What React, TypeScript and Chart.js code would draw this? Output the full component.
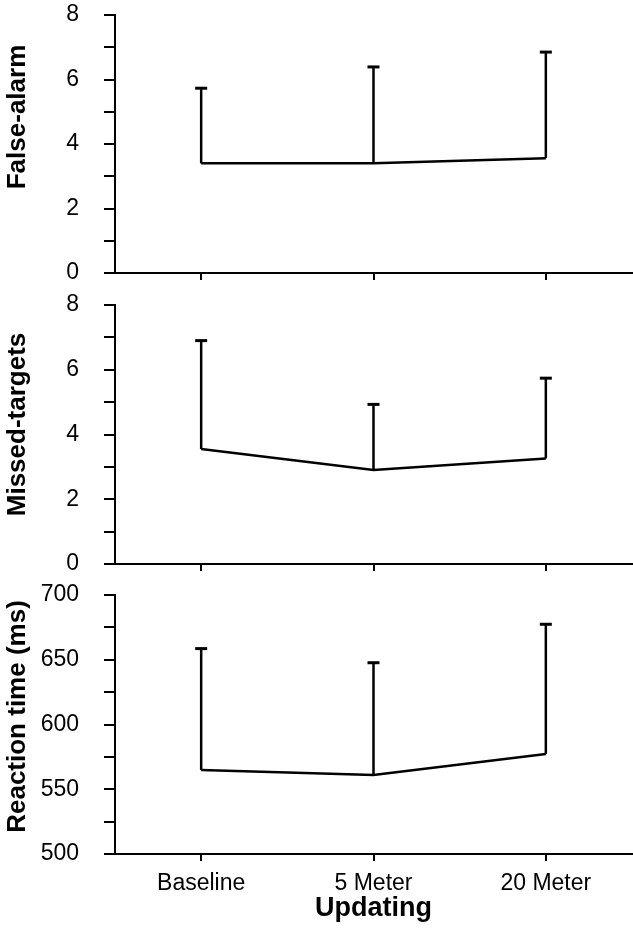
import React, { useEffect, useRef } from "react";
import { Chart, registerables } from "chart.js";
Chart.register(...registerables);

const FONT = "'Liberation Sans', Arial, Helvetica, sans-serif";

const categories = ["Baseline", "5 Meter", "20 Meter"];

const falseAlarmMean = [3.4, 3.4, 3.56];
const falseAlarmSD = [2.33, 2.99, 3.29];

const missedMean = [3.55, 2.9, 3.26];
const missedSD = [3.35, 2.03, 2.48];

const rtMean = [564.9, 561.0, 577.2];
const rtSD = [93.7, 86.7, 100.2];

const countTickLabels = [0, 2, 4, 6, 8];
const rtTickLabels = [500, 550, 600, 650, 700];

type PanelCfg = {
  title: string;
  mean: number[];
  sd: number[];
  min: number;
  max: number;
  step: number;
  labels: number[];
  top: number;
  height: number;
  xHeight: number;
  titleShift: number;
  showX: boolean;
};

const panels: PanelCfg[] = [
  { title: "False-alarm", mean: falseAlarmMean, sd: falseAlarmSD, min: 0, max: 8, step: 1, labels: countTickLabels, top: 0, height: 290, xHeight: 17, titleShift: -27, showX: false },
  { title: "Missed-targets", mean: missedMean, sd: missedSD, min: 0, max: 8, step: 1, labels: countTickLabels, top: 290, height: 290, xHeight: 16, titleShift: -10, showX: false },
  { title: "Reaction time (ms)", mean: rtMean, sd: rtSD, min: 500, max: 700, step: 25, labels: rtTickLabels, top: 580, height: 352, xHeight: 78, titleShift: -8, showX: true },
];

function Panel({ cfg }: { cfg: PanelCfg }) {
  const ref = useRef<HTMLCanvasElement>(null);
  useEffect(() => {
    const canvas = ref.current!;
    const errorBars = {
      id: "errorBars",
      afterDatasetsDraw(chart: any) {
        const ctx = chart.ctx;
        const xs = chart.scales.x;
        const ys = chart.scales.y;
        ctx.save();
        ctx.strokeStyle = "#000";
        cfg.mean.forEach((m, i) => {
          const x = xs.getPixelForValue(i);
          const y0 = ys.getPixelForValue(m);
          const y1 = ys.getPixelForValue(m + cfg.sd[i]);
          ctx.lineWidth = 2.5;
          ctx.beginPath();
          ctx.moveTo(x, y0);
          ctx.lineTo(x, y1);
          ctx.stroke();
          ctx.lineWidth = 3;
          ctx.beginPath();
          ctx.moveTo(x - 6, y1);
          ctx.lineTo(x + 6, y1);
          ctx.stroke();
        });
        ctx.restore();
      },
    };
    const yTitle = {
      id: "yTitle",
      afterDraw(chart: any) {
        const ctx = chart.ctx;
        const a = chart.chartArea;
        ctx.save();
        ctx.translate(18, (a.top + a.bottom) / 2 + cfg.titleShift);
        ctx.rotate(-Math.PI / 2);
        ctx.font = `bold 26px ${FONT}`;
        ctx.fillStyle = "#000";
        ctx.textAlign = "center";
        ctx.textBaseline = "middle";
        ctx.fillText(cfg.title, 0, 0);
        ctx.restore();
      },
    };
    const chart = new Chart(canvas, {
      type: "line",
      data: {
        labels: categories,
        datasets: [
          {
            data: cfg.mean,
            borderColor: "#000",
            borderWidth: 2.5,
            pointRadius: 0,
            tension: 0,
            fill: false,
          },
        ],
      },
      options: {
        responsive: false,
        animation: false,
        layout: { padding: { top: 15, right: 1, left: 0, bottom: 0 } },
        plugins: { legend: { display: false }, tooltip: { enabled: false } },
        scales: {
          x: {
            type: "category",
            offset: true,
            grid: { drawOnChartArea: false, drawTicks: true, tickLength: 7, lineWidth: 2, color: "#000", offset: false },
            border: { display: true, color: "#000", width: 2 },
            ticks: { display: cfg.showX, color: "#000", font: { family: FONT, size: 23 }, padding: 9, maxRotation: 0 },
            title: {
              display: cfg.showX,
              text: "Updating",
              color: "#000",
              font: { family: FONT, size: 27, weight: "bold" },
              padding: { top: 0, bottom: 7 },
            },
            afterFit(scale: any) {
              scale.height = cfg.xHeight;
              scale.paddingLeft = 0;
              scale.paddingRight = 0;
            },
          },
          y: {
            min: cfg.min,
            max: cfg.max,
            grid: { drawOnChartArea: false, drawTicks: true, tickLength: 11, lineWidth: 2, color: "#000" },
            border: { display: true, color: "#000", width: 2 },
            ticks: {
              stepSize: cfg.step,
              autoSkip: false,
              color: "#000",
              font: { family: FONT, size: 23 },
              padding: 25,
              callback: (v: any) => (cfg.labels.includes(Number(v)) ? String(v) : ""),
            },
            afterFit(scale: any) {
              scale.width = 115;
              scale.paddingTop = 0;
              scale.paddingBottom = 0;
            },
          },
        },
      } as any,
      plugins: [errorBars, yTitle],
    });
    return () => chart.destroy();
  }, [cfg]);
  return (
    <canvas
      ref={ref}
      width={633}
      height={cfg.height}
      style={{ position: "absolute", left: 0, top: cfg.top, width: 633, height: cfg.height }}
    />
  );
}

export default function App() {
  return (
    <div style={{ position: "absolute", left: 0, top: 0, width: 633, height: 932, background: "#fff" }}>
      {panels.map((p) => (
        <Panel key={p.title} cfg={p} />
      ))}
    </div>
  );
}
